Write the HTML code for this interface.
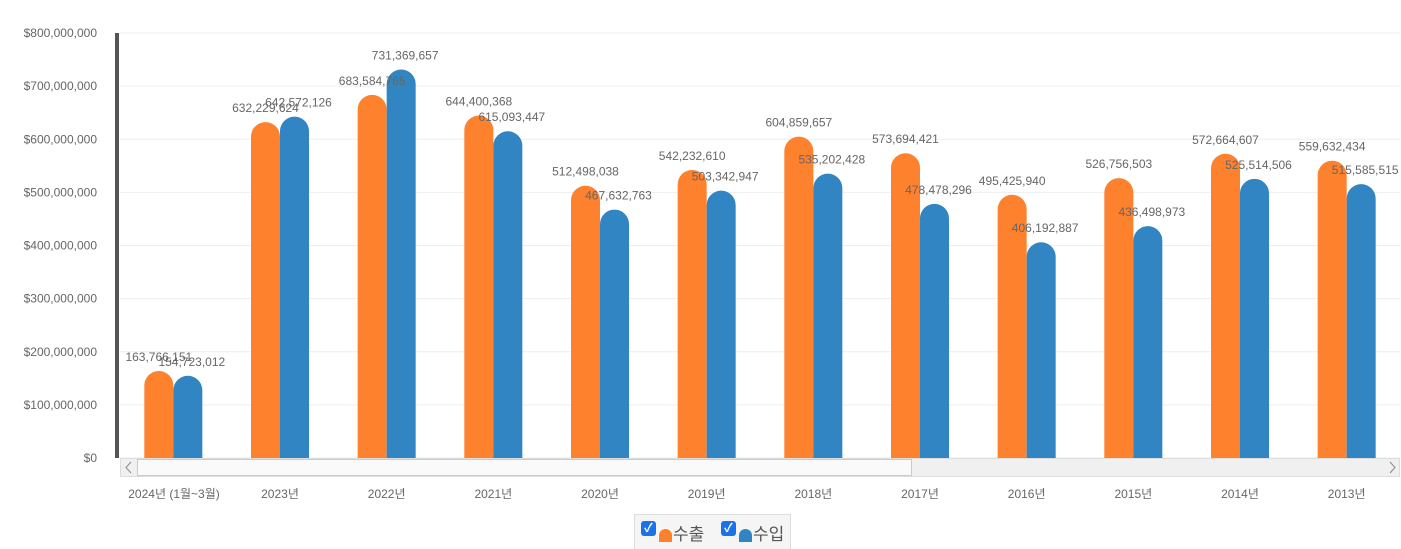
<!DOCTYPE html>
<html><head><meta charset="utf-8"><style>
body{margin:0;background:#fff;font-family:"Liberation Sans","Noto Sans CJK KR",sans-serif;}
#wrap{position:relative;width:1401px;height:549px;overflow:hidden}
svg text{font-family:"Liberation Sans","Noto Sans CJK KR",sans-serif}
#legend{position:absolute;left:634px;top:514px;width:157px;height:35px;background:#f5f5f5;border:1px solid #ddd;border-bottom:none;box-sizing:border-box;font-size:17px;color:#555}
.li{position:absolute;top:5px;display:flex;align-items:center}
.cb{width:15px;height:15px;background:#1a73e8;border-radius:3px;color:#fff;font-size:12px;line-height:15px;text-align:center;font-weight:bold;margin-top:-8px}
.sw{width:13px;height:13px;border-radius:7px 7px 0 0;margin:6px 1px 0 3px}
</style></head><body>
<div id="wrap">
<svg id="chart" width="1401" height="549"></svg>
<div id="legend">
 <div class="li" style="left:6px"><div class="cb">✓</div><div class="sw" style="background:#fe812d"></div>수출</div>
 <div class="li" style="left:86px"><div class="cb">✓</div><div class="sw" style="background:#3185c3"></div>수입</div>
</div>
</div>
<script>
const categories=["2024년 (1월~3월)","2023년","2022년","2021년","2020년","2019년","2018년","2017년","2016년","2015년","2014년","2013년"];
const exportValues=[163766151,632229624,683584765,644400368,512498038,542232610,604859657,573694421,495425940,526756503,572664607,559632434];
const importValues=[154723012,642572126,731369657,615093447,467632763,503342947,535202428,478478296,406192887,436498973,525514506,515585515];
const yTicks=[0,100000000,200000000,300000000,400000000,500000000,600000000,700000000,800000000];
const NS="http://www.w3.org/2000/svg";
const svg=document.getElementById('chart');
const X0=120,X1=1400,Y0=458,Y1=33,YMAX=800000000;
const band=(X1-X0)/categories.length;
const y=v=>Y0-(v/YMAX)*(Y0-Y1);
const xc=i=>X0+band*(i+0.5);
const fmt=v=>v.toLocaleString('en-US');
function mk(t,a,txt){const e=document.createElementNS(NS,t);for(const k in a)e.setAttribute(k,a[k]);if(txt!=null)e.textContent=txt;svg.appendChild(e);return e;}
yTicks.forEach(t=>{
 const g=mk('line',{x1:X0,x2:X1,y1:y(t),y2:y(t),stroke:'#eeeeee','stroke-width':1});
 
 
 const l=mk('text',{x:97,y:y(t)+4,'text-anchor':'end','font-size':12,fill:'#666'},'$'+fmt(t));
 
 
});
const ax=mk('rect',{x:115,y:Y1,width:4,height:Y0-Y1,fill:'#555'});


const W=29;
function bar(x,v,c,name){
 const top=y(v),h=Y0-top,r=Math.min(W/2,h);
 const p=mk('path',{d:`M${x},${Y0}V${top+r}A${r},${r} 0 0 1 ${x+W},${top+r}V${Y0}Z`,fill:c});
 
 
}
categories.forEach((c,i)=>{
 const cx=xc(i);
 bar(cx-W,exportValues[i],'#fe812d','bar-export');
 bar(cx,importValues[i],'#3185c3','bar-import');
 const a=mk('text',{x:cx-W/2,y:y(exportValues[i])-10,'text-anchor':'middle','font-size':12,fill:'#666'},fmt(exportValues[i]));
 
 
 const b=mk('text',{x:cx+W/2+4,y:y(importValues[i])-10,'text-anchor':'middle','font-size':12,fill:'#666'},fmt(importValues[i]));
 
 
 const xl=mk('text',{x:i===0?174:cx,y:498,'text-anchor':'middle','font-size':12,fill:'#666'},c);
 
 
});
const sb=mk('rect',{x:120.5,y:458.5,width:1279,height:18,fill:'#f0f0f0',stroke:'#ddd'});


const th=mk('rect',{x:137.5,y:459.5,width:774,height:16,fill:'#fafafa',stroke:'#ccc'});


const la=mk('path',{d:'M131,462L126,467.5L131,473',fill:'none',stroke:'#888'});


const ra=mk('path',{d:'M1390,462L1395,467.5L1390,473',fill:'none',stroke:'#888'});


</script>
</body></html>
